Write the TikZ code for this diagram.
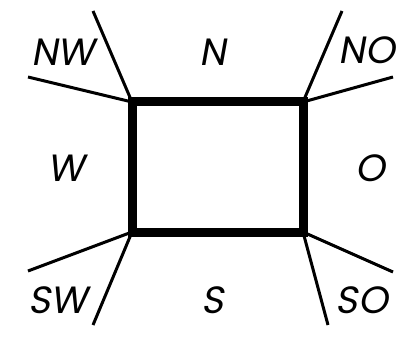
\documentclass[tikz,border=0pt]{standalone}
\usepackage{fontspec}
\newfontfamily\labfont{Poppins}[FakeSlant=0.18]
\begin{document}
\begin{tikzpicture}[x=1pt,y=-1pt,
  box/.style={line width=9pt,line join=miter},
  ray/.style={line width=3pt},
  lab/.style={font=\labfont\fontsize{38}{38}\selectfont,inner sep=0pt,anchor=center}]
\useasboundingbox (0,0) rectangle (401,342);
\coordinate (tl) at (132,102);
\coordinate (tr) at (303,102);
\coordinate (bl) at (132,232);
\coordinate (br) at (303,232);
\coordinate (nw1) at (93,11);
\coordinate (nw2) at (28,77);
\coordinate (no1) at (342,11);
\coordinate (no2) at (393,77);
\coordinate (sw1) at (28,271);
\coordinate (sw2) at (93,325);
\coordinate (so1) at (393,272);
\coordinate (so2) at (328,325);
\draw[box] (tl) -- (tr) -- (br) -- (bl) -- cycle;
\draw[ray] (tl) -- (nw1);
\draw[ray] (tl) -- (nw2);
\draw[ray] (tr) -- (no1);
\draw[ray] (tr) -- (no2);
\draw[ray] (bl) -- (sw1);
\draw[ray] (bl) -- (sw2);
\draw[ray] (br) -- (so1);
\draw[ray] (br) -- (so2);
\node[lab] (lnw) at (63,52) {NW};
\node[lab] (ln) at (213,52) {N};
\node[lab] (lno) at (367,50) {NO};
\node[lab] (lw) at (66,168) {W};
\node[lab] (lo) at (370,168) {O};
\node[lab] (lsw) at (58,300) {SW};
\node[lab] (ls) at (213,300) {S};
\node[lab] (lso) at (362,300) {SO};
\end{tikzpicture}
\end{document}
